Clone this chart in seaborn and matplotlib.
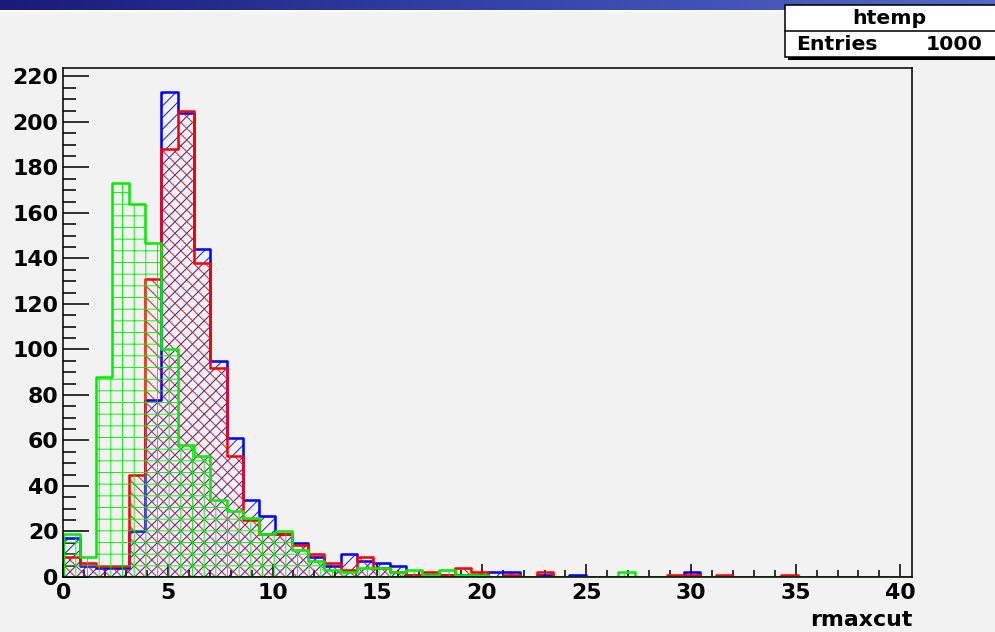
import numpy as np
import matplotlib
matplotlib.use("Agg")
import matplotlib.pyplot as plt
import seaborn as sns
from matplotlib.ticker import MultipleLocator
from matplotlib.patches import Rectangle
from matplotlib.lines import Line2D
from matplotlib.colors import LinearSegmentedColormap

# ---------------- data (bin counts) ----------------
bin_width = 0.78
n_bins = 52
x_max = 40.56
y_max = 223.6

blue_counts = [17, 5, 4, 4, 20, 78, 213, 204, 144, 95, 61, 34, 27, 19, 15, 9,
               5, 10, 7, 6, 5, 1, 1, 1, 1, 1, 2, 2, 0, 1, 0, 1, 0, 0, 0, 0,
               0, 0, 2, 0, 0, 0, 0, 0, 0, 0, 0, 0, 0, 0, 0, 0]
red_counts = [9, 6, 5, 5, 45, 131, 188, 205, 138, 92, 53, 25, 19, 19, 14, 10,
              6, 3, 9, 4, 2, 1, 2, 1, 4, 2, 0, 1, 0, 2, 0, 0, 0, 0, 0, 0,
              0, 1, 1, 0, 1, 0, 0, 0, 1, 0, 0, 0, 0, 0, 0, 0]
green_counts = [19, 9, 88, 173, 164, 147, 100, 58, 53, 34, 29, 26, 19, 20, 12, 7,
                3, 2, 4, 4, 2, 3, 1, 3, 1, 1, 0, 0, 0, 0, 0, 0, 0, 0, 2, 0,
                0, 0, 0, 0, 0, 0, 0, 0, 0, 0, 0, 0, 0, 0, 0, 0]

x_label = "rmaxcut"
stats_title = "htemp"
stats_name = "Entries"
stats_value = "1000"

bin_edges = [i * bin_width for i in range(n_bins + 1)]
bin_centers = [e + bin_width / 2 for e in bin_edges[:-1]]

# ---------------- style ----------------
BG = "#f2f2f2"
DPI = 70
W, H = 995, 632

sns.set_theme(style="white")
plt.rcParams["font.family"] = ["DejaVu Sans"]
plt.rcParams["font.weight"] = "bold"
plt.rcParams["hatch.linewidth"] = 0.9

fig = plt.figure(figsize=(W / DPI, H / DPI), dpi=DPI, facecolor=BG)

# window title strip
strip = fig.add_axes([0, 1 - 10 / H, 1, 10 / H])
grad = np.linspace(0, 1, 256).reshape(1, -1)
cmap = LinearSegmentedColormap.from_list("bar", ["#1a1a7a", "#3443a8", "#5668c6"])
strip.imshow(grad, aspect="auto", cmap=cmap, extent=[0, 1, 0, 1])
strip.axis("off")
fig.add_artist(Rectangle((0, 1 - 12 / H), 1, 2 / H, transform=fig.transFigure,
                         facecolor="white", edgecolor="none"))

# main axes
left, right, top, bottom = 63.3, 912.0, 68.3, 577.0
ax = fig.add_axes([left / W, 1 - bottom / H, (right - left) / W, (bottom - top) / H])
ax.set_facecolor(BG)

series = [
    (blue_counts, "#0000ff", "//"),
    (red_counts, "#ff0000", "\\\\"),
    (green_counts, "#00ee00", "+"),
]
for counts, col, hatch in series:
    sns.histplot(x=bin_centers, weights=counts, bins=bin_edges, element="step",
                 fill=True, color=col, facecolor="none", edgecolor=col, hatch=hatch,
                 linewidth=2.6, ax=ax)

ax.set_xlim(0, x_max)
ax.set_ylim(0, y_max)
ax.set_xlabel("")
ax.set_ylabel("")

ax.xaxis.set_major_locator(MultipleLocator(5))
ax.xaxis.set_minor_locator(MultipleLocator(1))
ax.yaxis.set_major_locator(MultipleLocator(20))
ax.yaxis.set_minor_locator(MultipleLocator(5))

fs = 22.6
ax.tick_params(axis="x", which="major", direction="in", length=13.4, width=1.6,
               pad=6, labelsize=fs, colors="black", top=False, bottom=True)
ax.tick_params(axis="x", which="minor", direction="in", length=7.2, width=1.6,
               top=False, bottom=True, colors="black")
ax.tick_params(axis="y", which="major", direction="in", length=26.7, width=1.6,
               pad=5, labelsize=fs, colors="black", right=False, left=True)
ax.tick_params(axis="y", which="minor", direction="in", length=13.4, width=1.6,
               right=False, left=True, colors="black")
for lbl in ax.get_xticklabels() + ax.get_yticklabels():
    lbl.set_fontweight("bold")

for sp in ax.spines.values():
    sp.set_color("black")
    sp.set_linewidth(1.6)
    sp.set_visible(True)

fig.text(right / W, 1 - 626 / H, x_label, ha="right", va="baseline",
         fontsize=fs, fontweight="bold", color="black")

# stats box
bx0, by0, by1 = 785, 5, 57
fig.add_artist(Rectangle(((bx0 + 3) / W, 1 - (by1 + 3) / H), (W - bx0) / W, (by1 - by0) / H,
                         transform=fig.transFigure, facecolor="black", edgecolor="none"))
fig.add_artist(Rectangle((bx0 / W, 1 - by1 / H), (W + 5 - bx0) / W, (by1 - by0) / H,
                         transform=fig.transFigure, facecolor="white", edgecolor="black",
                         linewidth=1.6))
fig.add_artist(Line2D([bx0 / W, 1], [1 - 31 / H, 1 - 31 / H], transform=fig.transFigure,
                      color="black", linewidth=1.6))
sfs = 21.0
fig.text(889 / W, 1 - 19 / H, stats_title, ha="center", va="center",
         fontsize=sfs, fontweight="bold", color="black")
fig.text(796 / W, 1 - 44 / H, stats_name, ha="left", va="center",
         fontsize=sfs, fontweight="bold", color="black")
fig.text(983 / W, 1 - 44 / H, stats_value, ha="right", va="center",
         fontsize=sfs, fontweight="bold", color="black")

fig.savefig("out.png", dpi=DPI, facecolor=BG)
